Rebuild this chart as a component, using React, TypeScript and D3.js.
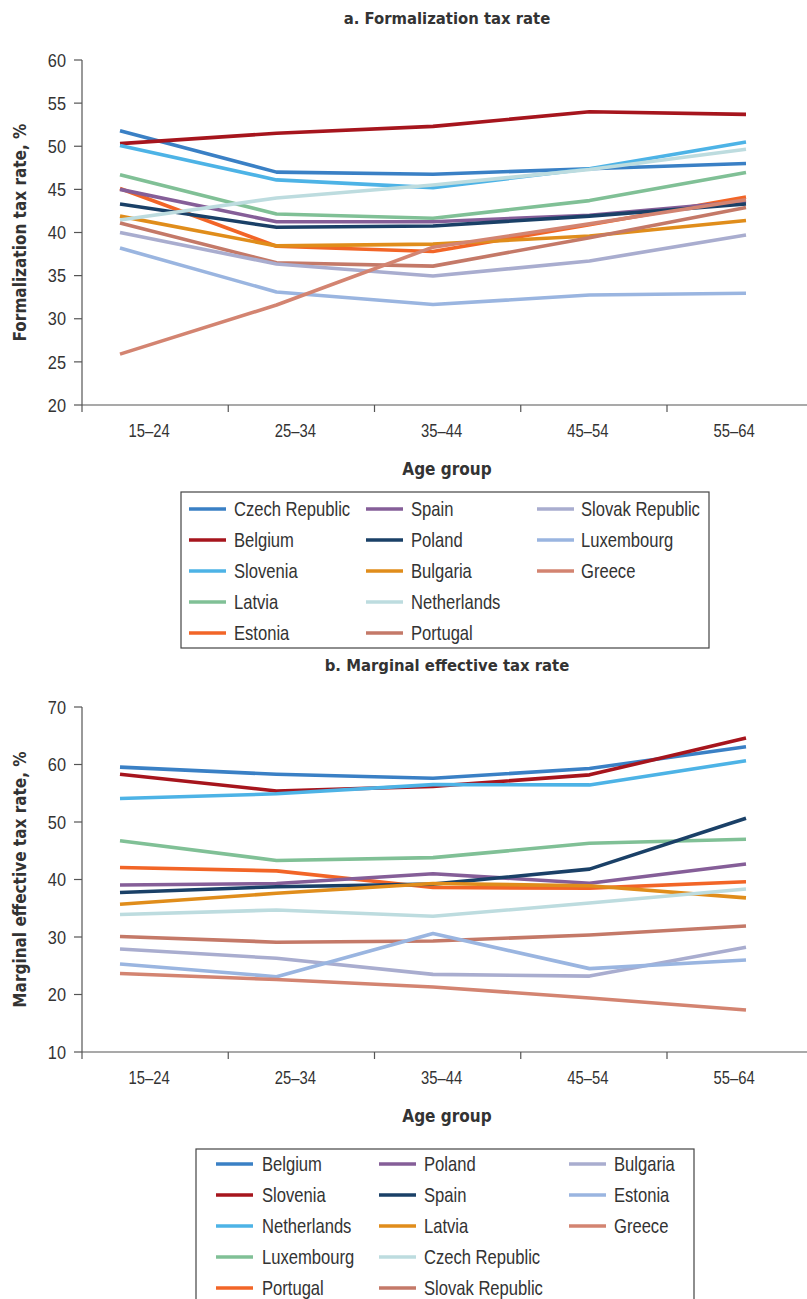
import React from 'react';
import * as d3 from 'd3';

const ageGroups = ['15–24', '25–34', '35–44', '45–54', '55–64'];

const palette = [
  '#3a80c5', '#a6151d', '#4db3e6', '#80c096', '#f26527', '#855e98', '#1a4067',
  '#e08d1b', '#bddcdf', '#c47968', '#a9adcf', '#9ab5e0', '#d38471',
];

// Panel a: Formalization tax rate, %
const formNames = ['Czech Republic', 'Belgium', 'Slovenia', 'Latvia', 'Estonia', 'Spain', 'Poland',
  'Bulgaria', 'Netherlands', 'Portugal', 'Slovak Republic', 'Luxembourg', 'Greece'];
const formCzech = [51.8, 47.0, 46.75, 47.4, 48.0];
const formBelgium = [50.3, 51.5, 52.3, 54.0, 53.7];
const formSlovenia = [50.1, 46.1, 45.2, 47.4, 50.5];
const formLatvia = [46.7, 42.15, 41.65, 43.7, 46.95];
const formEstonia = [45.1, 38.4, 37.8, 40.9, 44.1];
const formSpain = [45.0, 41.25, 41.25, 42.0, 43.6];
const formPoland = [43.3, 40.6, 40.75, 41.9, 43.3];
const formBulgaria = [41.9, 38.45, 38.65, 39.6, 41.4];
const formNetherlands = [41.45, 44.0, 45.5, 47.3, 49.65];
const formPortugal = [41.1, 36.5, 36.1, 39.4, 42.9];
const formSlovak = [40.0, 36.35, 34.95, 36.7, 39.7];
const formLuxembourg = [38.2, 33.1, 31.65, 32.75, 32.95];
const formGreece = [25.9, 31.6, 38.3, 41.0, 43.8];
const formValues = [formCzech, formBelgium, formSlovenia, formLatvia, formEstonia, formSpain, formPoland,
  formBulgaria, formNetherlands, formPortugal, formSlovak, formLuxembourg, formGreece];
const formTicks = [20, 25, 30, 35, 40, 45, 50, 55, 60];

// Panel b: Marginal effective tax rate, %
const metrNames = ['Belgium', 'Slovenia', 'Netherlands', 'Luxembourg', 'Portugal', 'Poland', 'Spain',
  'Latvia', 'Czech Republic', 'Slovak Republic', 'Bulgaria', 'Estonia', 'Greece'];
const metrBelgium = [59.55, 58.3, 57.6, 59.3, 63.1];
const metrSlovenia = [58.3, 55.4, 56.2, 58.2, 64.6];
const metrNetherlands = [54.1, 54.9, 56.5, 56.45, 60.65];
const metrLuxembourg = [46.75, 43.3, 43.8, 46.3, 47.0];
const metrPortugal = [42.1, 41.5, 38.6, 38.5, 39.6];
const metrPoland = [39.05, 39.3, 41.0, 39.35, 42.7];
const metrSpain = [37.75, 38.75, 39.2, 41.8, 50.65];
const metrLatvia = [35.7, 37.6, 39.3, 38.9, 36.8];
const metrCzech = [33.9, 34.7, 33.6, 35.9, 38.35];
const metrSlovak = [30.1, 29.1, 29.3, 30.35, 31.9];
const metrBulgaria = [27.9, 26.3, 23.5, 23.2, 28.2];
const metrEstonia = [25.3, 23.1, 30.6, 24.5, 26.0];
const metrGreece = [23.65, 22.6, 21.3, 19.4, 17.3];
const metrValues = [metrBelgium, metrSlovenia, metrNetherlands, metrLuxembourg, metrPortugal, metrPoland,
  metrSpain, metrLatvia, metrCzech, metrSlovak, metrBulgaria, metrEstonia, metrGreece];
const metrTicks = [10, 20, 30, 40, 50, 60, 70];

const BOLD_FONT = "'DejaVu Sans Condensed', 'Liberation Sans', sans-serif";
const NARROW_FONT = "'Liberation Sans', Arial, sans-serif";
const TEXT = '#333333';
const AXIS = '#555555';

// Text drawn with a horizontal squeeze to imitate a condensed face
function NText({ x, y, sx, size, anchor, children }: { x: number; y: number; sx: number; size: number; anchor?: string; children: React.ReactNode }) {
  return (
    <text
      transform={`translate(${x},${y}) scale(${sx},1)`}
      dy="0.35em"
      textAnchor={anchor || 'start'}
      fontFamily={NARROW_FONT}
      fontSize={size}
      fill={TEXT}
    >
      {children}
    </text>
  );
}

interface PanelProps {
  title: string;
  yTitle: string;
  names: string[];
  values: number[][];
  ticks: number[];
  top: number;
  bottom: number;
  legend: { x: number; y: number; w: number; h: number; swatchX: number[]; textX: number[]; rowY: number };
}

function Panel({ title, yTitle, names, values, ticks, top, bottom, legend }: PanelProps) {
  const axisX = 82;
  const y = d3.scaleLinear().domain([ticks[0], ticks[ticks.length - 1]]).range([bottom, top]);
  const xBand = d3.scaleBand<string>().domain(ageGroups).range([axisX, axisX + 146.25 * 5]);
  const xPt = d3.scalePoint<string>().domain(ageGroups).range([120, 746]);
  const line = d3.line<number>().x((_, i) => xPt(ageGroups[i]) as number).y((d) => y(d));
  const tickXs = d3.range(0, 5).map((i) => axisX + xBand.step() * i);

  return (
    <g>
      <text x={447} y={top - 42} dy="0.35em" textAnchor="middle" fontFamily={BOLD_FONT} fontWeight="bold" fontSize={16.5} fill={TEXT}>{title}</text>
      <text transform={`translate(26,${(top + bottom) / 2}) rotate(-90)`} textAnchor="middle" fontFamily={BOLD_FONT} fontWeight="bold" fontSize={17} fill={TEXT}>{yTitle}</text>
      {/* y axis */}
      <line x1={axisX} x2={axisX} y1={top} y2={bottom} stroke={AXIS} strokeWidth={1.2} />
      {ticks.map((t) => (
        <g key={t}>
          <line x1={axisX - 8} x2={axisX} y1={y(t)} y2={y(t)} stroke={AXIS} strokeWidth={1.2} />
          <NText x={66} y={y(t)} sx={0.86} size={19} anchor="end">{t}</NText>
        </g>
      ))}
      {/* x axis */}
      <line x1={axisX} x2={807} y1={bottom} y2={bottom} stroke={AXIS} strokeWidth={1.2} />
      {tickXs.map((tx, i) => (
        <line key={i} x1={tx} x2={tx} y1={bottom} y2={bottom + 7} stroke={AXIS} strokeWidth={1.2} />
      ))}
      {ageGroups.map((g) => (
        <NText key={g} x={(xBand(g) as number) + xBand.bandwidth() / 2 - 6} y={bottom + 26} sx={0.8} size={18.5} anchor="middle">{g}</NText>
      ))}
      <text x={447} y={bottom + 64} dy="0.35em" textAnchor="middle" fontFamily={BOLD_FONT} fontWeight="bold" fontSize={17} fill={TEXT}>Age group</text>
      {/* lines */}
      {values.map((v, i) => (
        <path key={names[i]} d={line(v) as string} fill="none" stroke={palette[i]} strokeWidth={3.6} strokeLinejoin="round" />
      ))}
      {/* legend */}
      <rect x={legend.x} y={legend.y} width={legend.w} height={legend.h} fill="none" stroke="#444" strokeWidth={1.2} />
      {names.map((n, i) => {
        const col = Math.floor(i / 5);
        const row = i % 5;
        const ly = legend.rowY + row * 31;
        return (
          <g key={n}>
            <line x1={legend.swatchX[col]} x2={legend.swatchX[col] + 37} y1={ly} y2={ly} stroke={palette[i]} strokeWidth={3.6} />
            <NText x={legend.textX[col]} y={ly - 0.5} sx={0.83} size={20}>{n}</NText>
          </g>
        );
      })}
    </g>
  );
}

export default function App() {
  return (
    <svg width={807} height={1299} style={{ position: 'absolute', left: 0, top: 0 }} xmlns="http://www.w3.org/2000/svg">
      <rect width={807} height={1299} fill="#ffffff" />
      <Panel
        title="a. Formalization tax rate"
        yTitle="Formalization tax rate, %"
        names={formNames}
        values={formValues}
        ticks={formTicks}
        top={60}
        bottom={405}
        legend={{ x: 181, y: 492, w: 528, h: 156, swatchX: [189, 366, 537], textX: [234, 411, 581], rowY: 509 }}
      />
      <Panel
        title="b. Marginal effective tax rate"
        yTitle="Marginal effective tax rate, %"
        names={metrNames}
        values={metrValues}
        ticks={metrTicks}
        top={707}
        bottom={1052}
        legend={{ x: 196, y: 1149, w: 498, h: 170, swatchX: [216, 379, 569], textX: [262, 424, 614], rowY: 1164 }}
      />
    </svg>
  );
}
